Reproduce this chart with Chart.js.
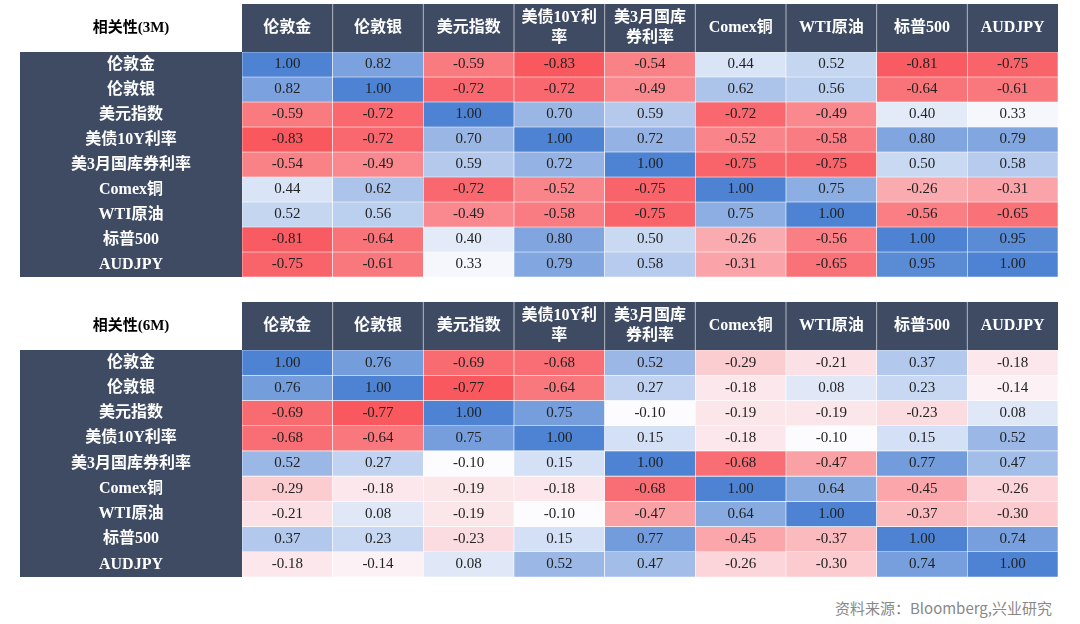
<!DOCTYPE html>
<html><head><meta charset="utf-8">
<script src="https://cdn.jsdelivr.net/npm/chart.js@4"></script>
<style>
body{margin:0;background:#fff;width:1080px;height:624px;overflow:hidden;position:relative}
.p{position:absolute;left:0;width:1080px}
#src{position:absolute;right:28px;top:597px;font:15px "Noto Sans CJK SC",sans-serif;color:#888}
</style></head><body>
<div class="p" style="top:4px;height:285px"><canvas id="c3"></canvas></div>
<div class="p" style="top:302px;height:287px"><canvas id="c6"></canvas></div>
<div id="src">资料来源：Bloomberg,兴业研究</div>
<script>
const columns = [["伦敦金"], ["伦敦银"], ["美元指数"], ["美债10Y利", "率"], ["美3月国库", "券利率"], ["Comex铜"], ["WTI原油"], ["标普500"], ["AUDJPY"]];
const rows = ["伦敦金", "伦敦银", "美元指数", "美债10Y利率", "美3月国库券利率", "Comex铜", "WTI原油", "标普500", "AUDJPY"];

const corr3M = [
  [1.00, 0.82, -0.59, -0.83, -0.54, 0.44, 0.52, -0.81, -0.75],
  [0.82, 1.00, -0.72, -0.72, -0.49, 0.62, 0.56, -0.64, -0.61],
  [-0.59, -0.72, 1.00, 0.70, 0.59, -0.72, -0.49, 0.40, 0.33],
  [-0.83, -0.72, 0.70, 1.00, 0.72, -0.52, -0.58, 0.80, 0.79],
  [-0.54, -0.49, 0.59, 0.72, 1.00, -0.75, -0.75, 0.50, 0.58],
  [0.44, 0.62, -0.72, -0.52, -0.75, 1.00, 0.75, -0.26, -0.31],
  [0.52, 0.56, -0.49, -0.58, -0.75, 0.75, 1.00, -0.56, -0.65],
  [-0.81, -0.64, 0.40, 0.80, 0.50, -0.26, -0.56, 1.00, 0.95],
  [-0.75, -0.61, 0.33, 0.79, 0.58, -0.31, -0.65, 0.95, 1.00]
];
const corr6M = [
  [1.00, 0.76, -0.69, -0.68, 0.52, -0.29, -0.21, 0.37, -0.18],
  [0.76, 1.00, -0.77, -0.64, 0.27, -0.18, 0.08, 0.23, -0.14],
  [-0.69, -0.77, 1.00, 0.75, -0.10, -0.19, -0.19, -0.23, 0.08],
  [-0.68, -0.64, 0.75, 1.00, 0.15, -0.18, -0.10, 0.15, 0.52],
  [0.52, 0.27, -0.10, 0.15, 1.00, -0.68, -0.47, 0.77, 0.47],
  [-0.29, -0.18, -0.19, -0.18, -0.68, 1.00, 0.64, -0.45, -0.26],
  [-0.21, 0.08, -0.19, -0.10, -0.47, 0.64, 1.00, -0.37, -0.30],
  [0.37, 0.23, -0.23, 0.15, 0.77, -0.45, -0.37, 1.00, 0.74],
  [-0.18, -0.14, 0.08, 0.52, 0.47, -0.26, -0.30, 0.74, 1.00]
];

const NAVY = "#3e4b63";
const serif = '"Liberation Serif","Noto Sans CJK SC",serif';

function mix(a, b, t) {
  return "rgb(" + a.map((v, i) => Math.round(v + (b[i] - v) * t)).join(",") + ")";
}
function cellColor(v, mid, lo) {
  const white = [252, 252, 255], blue = [78, 130, 210], red = [248, 88, 94];
  if (v >= mid) return mix(white, blue, Math.min(1, (v - mid) / (1 - mid)));
  return mix(white, red, Math.min(1, (mid - v) / (mid - lo)));
}

function makeTable(id, title, matrix, mid) {
  const lo = Math.min(...matrix.flat());
  const frame = {
    id: "frame",
    beforeDraw(chart) {
      const { ctx, chartArea: a } = chart;
      ctx.save();
      ctx.fillStyle = NAVY;
      ctx.fillRect(a.left, 0, a.right - a.left, a.top);
      ctx.fillRect(20, a.top, a.left - 20, a.bottom - a.top);
      ctx.fillStyle = "#000";
      ctx.font = "bold 15px " + serif;
      ctx.textAlign = "center";
      ctx.textBaseline = "middle";
      ctx.fillText(title, (20 + a.left) / 2, a.top / 2);
      ctx.restore();
    },
    afterDatasetsDraw(chart) {
      const { ctx, chartArea: a } = chart;
      const x = chart.scales.x, y = chart.scales.y;
      ctx.save();
      ctx.textAlign = "center";
      ctx.textBaseline = "middle";
      ctx.font = "15px " + serif;
      ctx.fillStyle = "#222";
      matrix.forEach((r, i) => r.forEach((v, j) => {
        ctx.fillText(v.toFixed(2), x.getPixelForValue(j), y.getPixelForValue(i + 0.5));
      }));
      ctx.font = "bold 16px " + serif;
      ctx.fillStyle = "#fff";
      rows.forEach((r, i) => ctx.fillText(r, (20 + a.left) / 2, y.getPixelForValue(i + 0.5)));
      columns.forEach((c, j) => {
        const cy = a.top / 2 - (c.length - 1) * 10;
        c.forEach((line, k) => ctx.fillText(line, x.getPixelForValue(j), cy + k * 20));
      });
      ctx.strokeStyle = "rgba(255,255,255,0.6)";
      for (let j = 1; j < columns.length; j++) {
        const px = (x.getPixelForValue(j - 1) + x.getPixelForValue(j)) / 2;
        ctx.beginPath(); ctx.moveTo(px, 0); ctx.lineTo(px, a.top); ctx.stroke();
      }
      ctx.restore();
    }
  };
  new Chart(document.getElementById(id), {
    type: "bar",
    data: {
      labels: columns,
      datasets: matrix.map((r, i) => ({
        label: rows[i],
        data: r.map(() => 1),
        backgroundColor: r.map(v => cellColor(v, mid, lo)),
        borderColor: "#fff",
        borderWidth: 0.6,
        borderSkipped: false
      }))
    },
    options: {
      responsive: true,
      maintainAspectRatio: false,
      animation: false,
      layout: { padding: { left: 20, right: 22, top: 0, bottom: 0 } },
      datasets: { bar: { barPercentage: 1, categoryPercentage: 1 } },
      plugins: { legend: { display: false }, tooltip: { enabled: false } },
      scales: {
        x: {
          position: "top",
          stacked: true,
          grid: { display: false },
          border: { display: false },
          ticks: { color: "rgba(0,0,0,0)", font: { family: serif, size: 16, weight: "bold" }, maxRotation: 0 },
          afterFit: s => { s.height = 48; }
        },
        y: {
          stacked: true,
          reverse: true,
          min: 0,
          max: rows.length,
          grid: { display: false },
          border: { display: false },
          afterBuildTicks: s => { s.ticks = rows.map((r, i) => ({ value: i + 0.5 })); },
          ticks: {
            autoSkip: false,
            color: "rgba(0,0,0,0)",
            font: { family: serif, size: 15, weight: "bold" },
            callback: (v, i) => rows[i]
          },
          afterFit: s => { s.width = 222; }
        }
      }
    },
    plugins: [frame]
  });
}

makeTable("c3", "相关性(3M)", corr3M, 0.3);
makeTable("c6", "相关性(6M)", corr6M, -0.1);
</script>
</body></html>
